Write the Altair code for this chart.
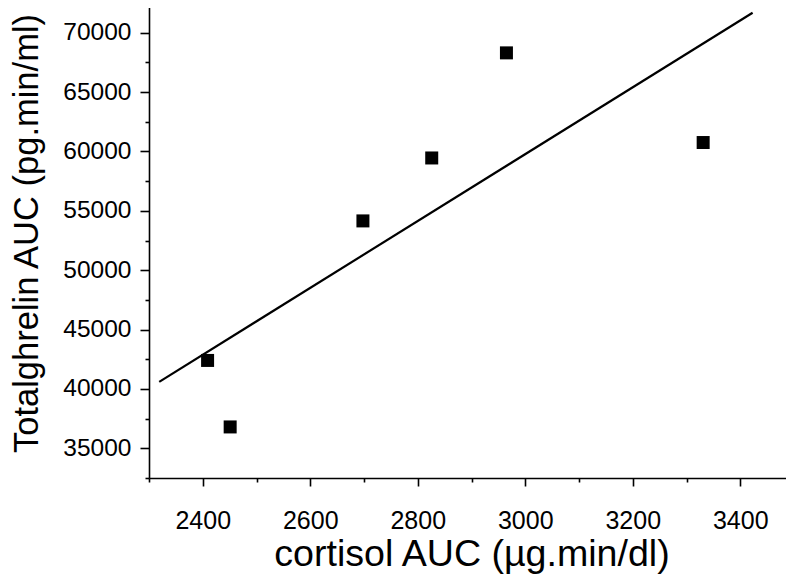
import altair as alt
import pandas as pd

# data
cortisol_auc = [2409, 2451, 2698, 2826, 2965, 3331]
ghrelin_auc = [42400, 36800, 54150, 59450, 68300, 60750]
fit_cortisol = [2319, 3423]
fit_ghrelin = [40600, 71680]
x_ticks = list(range(2300, 3501, 100))
y_ticks = list(range(32500, 72501, 2500))

pts = pd.DataFrame({"cortisol": cortisol_auc, "ghrelin": ghrelin_auc})
fit = pd.DataFrame({"cortisol": fit_cortisol, "ghrelin": fit_ghrelin})

FONT = "Liberation Sans"
W, H = 637, 470
xscale = alt.Scale(domain=[2300, 3500], nice=False, zero=False, range=[0, 645])
yscale = alt.Scale(domain=[32500, 72500], nice=False, zero=False, range=[H, -5])

xaxis = alt.Axis(
    title="cortisol AUC (µg.min/dl)", values=x_ticks, format="d",
    labelExpr="datum.value % 200 === 0 ? datum.label : ''",
    tickSize={"condition": {"test": "datum.value % 200 === 0", "value": 8}, "value": 4},
    grid=False, domainColor="black", tickColor="black", domainWidth=1.6, tickWidth=1.6,
    labelFont=FONT, labelFontSize=25, labelColor="black", labelPadding=22.5,
    labelFlush=False, labelOverlap=False,
    titleFont=FONT, titleFontSize=37.6, titleFontWeight="normal", titleColor="black",
    titleBaseline="alphabetic", titleY=87.5,
)
yaxis = alt.Axis(
    title="Totalghrelin AUC (pg.min/ml)", values=y_ticks, format="d",
    labelExpr="datum.value % 5000 === 0 ? datum.label : ''",
    tickSize={"condition": {"test": "datum.value % 5000 === 0", "value": 9}, "value": 4},
    grid=False, domainColor="black", tickColor="black", domainWidth=1.6, tickWidth=1.6,
    labelFont=FONT, labelFontSize=24.5, labelColor="black", labelPadding=9,
    labelFlush=False, labelOverlap=False,
    titleFont=FONT, titleFontSize=34.5, titleFontWeight="normal", titleColor="black",
    titleBaseline="alphabetic", titleX=-111.5, titleY=225,
)

line = alt.Chart(fit).mark_line(color="black", strokeWidth=2.2).encode(
    x=alt.X("cortisol:Q", scale=xscale, axis=xaxis),
    y=alt.Y("ghrelin:Q", scale=yscale, axis=yaxis),
)
points = alt.Chart(pts).mark_square(color="black", size=169, opacity=1).encode(
    x=alt.X("cortisol:Q", scale=xscale, axis=xaxis),
    y=alt.Y("ghrelin:Q", scale=yscale, axis=yaxis),
)

chart = (line + points).properties(
    width=W, height=H,
    autosize=alt.AutoSizeParams(type="none"),
    padding={"left": 141, "top": 0, "right": 0, "bottom": 96},
    background="white",
).configure_view(stroke=None)

chart.save("out.html", embed_options={"renderer": "svg", "actions": False})
